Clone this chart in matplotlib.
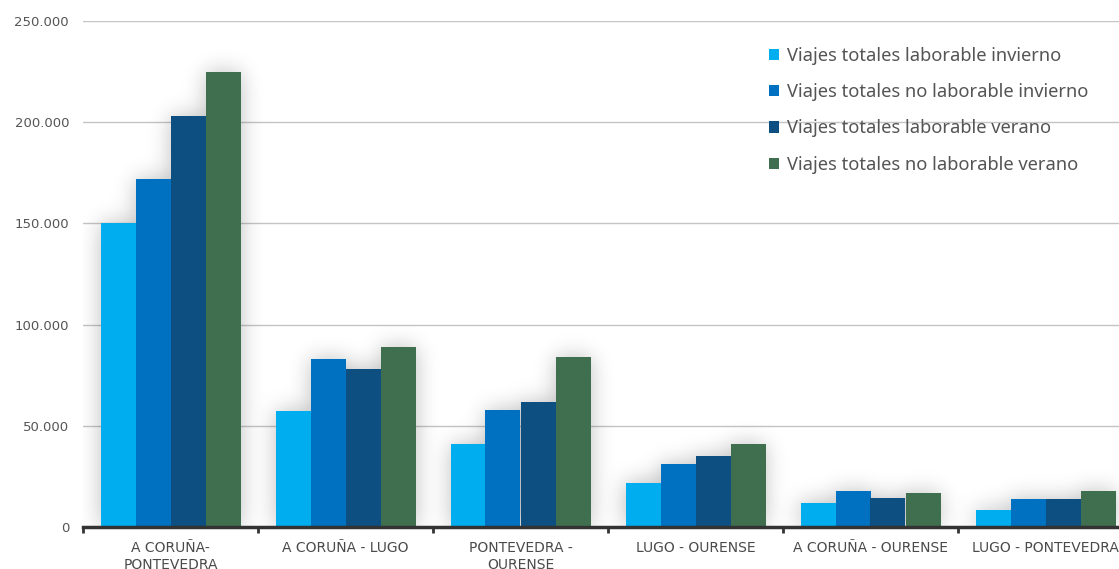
import numpy as np
import matplotlib
matplotlib.use("Agg")
import matplotlib.pyplot as plt
from matplotlib.ticker import FuncFormatter, FixedLocator

categories = ["A CORUÑA-\nPONTEVEDRA", "A CORUÑA - LUGO", "PONTEVEDRA -\nOURENSE",
              "LUGO - OURENSE", "A CORUÑA - OURENSE", "LUGO - PONTEVEDRA"]
series_names = ["Viajes totales laborable invierno",
                "Viajes totales no laborable invierno",
                "Viajes totales laborable verano",
                "Viajes totales no laborable verano"]
lab_invierno = [150000, 57300, 41000, 21900, 11900, 8200]
nolab_invierno = [172000, 83000, 57800, 31000, 17800, 13700]
lab_verano = [203000, 78000, 61800, 35000, 14200, 13700]
nolab_verano = [225000, 89000, 84000, 40900, 16800, 17800]
colors = ["#00AEEF", "#0070C0", "#0C4F80", "#3F6F4F"]
y_ticks = [0, 50000, 100000, 150000, 200000, 250000]

series = [lab_invierno, nolab_invierno, lab_verano, nolab_verano]

W, H = 1119, 569
fig = plt.figure(figsize=(W / 100, H / 100), dpi=100)
ax = fig.add_axes([83 / W, 1 - 527 / H, 1 - 83 / W, (527 - 21) / H])

x = np.arange(len(categories))
bw = 0.2
xlim = (-0.5, -0.5 + (W - 83) / 175)

for i, (vals, c, name) in enumerate(zip(series, colors, series_names)):
    ax.bar(x + (i - 1.5) * bw, vals, width=bw, color=c, label=name, zorder=3,
           linewidth=0)

# soft glow behind the bar groups
nx, ny = W - 83, 527 - 21
gx = np.linspace(xlim[0], xlim[1], nx)
gy = np.linspace(0, 250000, ny)
mask = np.zeros((ny, nx))
for i, vals in enumerate(series):
    for xi, v in zip(x, vals):
        left = xi + (i - 2) * bw
        cols = (gx >= left) & (gx <= left + bw)
        rows = gy <= v
        mask[np.ix_(rows, cols)] = 1.0
pad = 50
big = np.pad(mask, pad)
sig = 11.0
k = np.exp(-0.5 * (np.arange(-40, 41) / sig) ** 2)
k /= k.sum()
big = np.apply_along_axis(lambda r: np.convolve(r, k, mode="same"), 1, big)
big = np.apply_along_axis(lambda c: np.convolve(c, k, mode="same"), 0, big)
blur = big[pad:-pad, pad:-pad]
rgba = np.zeros((ny, nx, 4))
rgba[..., 3] = 0.26 * blur
ax.imshow(rgba, extent=(xlim[0], xlim[1], 0, 250000), origin="lower",
          aspect="auto", zorder=1, interpolation="bilinear")

ax.yaxis.set_major_locator(FixedLocator(y_ticks))
ax.yaxis.set_major_formatter(FuncFormatter(lambda v, p: f"{int(v):,}".replace(",", ".")))
ax.grid(axis="y", color="#c4c4c4", linewidth=1.0, zorder=0)
ax.set_axisbelow(True)
ax.tick_params(axis="y", length=0, pad=10, labelsize=9.5, labelcolor="#555555")

# category labels centered, boundary ticks between groups
ax.set_xticks(x)
ax.set_xticklabels(categories, fontsize=10, color="#4a4a4a", linespacing=1.25)
ax.tick_params(axis="x", length=0, pad=10)
ax.set_xticks(np.arange(-0.5, 5.5, 1.0), minor=True)
ax.tick_params(axis="x", which="minor", length=4, width=2, color="#333333", direction="out")

ax.set_xlim(*xlim)
ax.set_ylim(0, 250000)

for s in ["top", "right", "left"]:
    ax.spines[s].set_visible(False)
ax.spines["bottom"].set_color("#333333")
ax.spines["bottom"].set_linewidth(2.5)
ax.spines["bottom"].set_zorder(5)

ax.legend(loc="upper left", bbox_to_anchor=(760 / W, 1 - 38 / H),
          bbox_transform=fig.transFigure, frameon=False,
          prop={"family": "Noto Sans", "size": 13.2},
          handlelength=0.55, handleheight=0.55, handletextpad=0.4,
          labelspacing=0.99, labelcolor="#555555", borderpad=0)

fig.savefig("out.png", dpi=100)
